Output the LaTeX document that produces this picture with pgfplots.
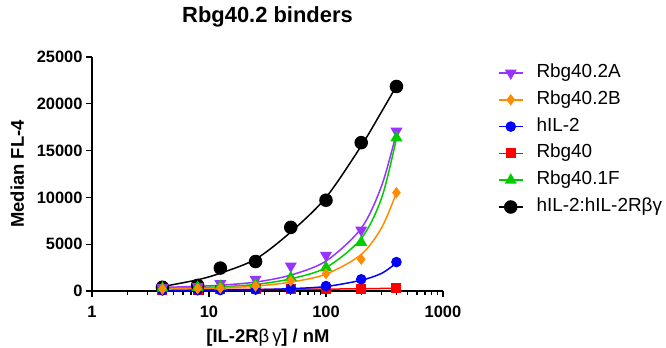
\documentclass[border=0pt]{standalone}
\usepackage{fontspec}
\setmainfont{Liberation Sans}
\usepackage{pgfplots}
\usepackage{pgfplotstable}
\pgfplotsset{compat=1.18}

\definecolor{cPurple}{RGB}{153,51,255}
\definecolor{cOrange}{RGB}{255,140,0}
\definecolor{cBlue}{RGB}{0,0,255}
\definecolor{cRed}{RGB}{255,0,0}
\definecolor{cGreen}{RGB}{0,204,0}

% measured medians
\pgfplotstableread{
conc  A     B     IL2   R40  F1    cplx
4     360   200   60    150  300   400
8     470   250   80    150  400   600
12.5  790   300   100   160  500   2450
25    1250  530   150   170  700   3150
50    2670  1070  250   180  1430  6800
100   3810  1850  530   200  2500  9700
200   6510  3380  1250  250  5200  15850
400   17070 10500 3090  320  16360 21850
}\points

% fitted curves
\pgfplotstableread{
conc  A     B     IL2   R40  F1    cplx
4     380   200   60    150  280   470
8     500   260   80    160  360   1200
12.5  620   330   100   165  450   1900
25    950   520   140   175  700   3400
50    1700  950   250   185  1300  6300
100   3200  1800  480   200  2500  10000
200   6700  3900  1150  240  5600  15500
300   11300 6800  1900  270  10000 19200
400   16900 10500 3000  300  16300 21900
}\curves

\pgfplotsset{
  sA/.style={cPurple, line width=1.5bp, mark=triangle*, mark size=5.5bp, mark options={rotate=180, solid, fill=cPurple}},
  sB/.style={cOrange, line width=1.5bp, mark=diamond*, mark size=4.5bp, mark options={solid, fill=cOrange}},
  sIL/.style={cBlue, line width=1.5bp, mark=*, mark size=4.5bp, mark options={solid, fill=cBlue}},
  sR/.style={cRed, line width=1.5bp, mark=square*, mark size=4.2bp, mark options={solid, fill=cRed}},
  sF/.style={cGreen, line width=1.5bp, mark=triangle*, mark size=5.5bp, mark options={solid, fill=cGreen}},
  sC/.style={black, line width=1.5bp, mark=*, mark size=6bp, mark options={solid, fill=black}},
}

\begin{document}
\begin{tikzpicture}
\path[use as bounding box] (-92bp,-57bp) rectangle (574bp,291bp);
\begin{axis}[
  scale only axis, width=351bp, height=234bp,
  at={(0,0)}, anchor=south west,
  xmode=log, xmin=1, xmax=1000, ymin=0, ymax=25000,
  axis x line=bottom, axis y line=left,
  axis line style={-, line width=1.6bp, black},
  tick align=outside, major tick length=6bp, minor tick length=4bp,
  every tick/.style={black, line width=1.3bp},
  xtick={1,10,100,1000}, xticklabels={1,10,100,1000},
  minor xtick={2,3,4,5,6,7,8,9,20,30,40,50,60,70,80,90,200,300,400,500,600,700,800,900},
  ytick={0,5000,10000,15000,20000,25000},
  scaled y ticks=false,
  /pgf/number format/1000 sep={},
  /pgf/number format/assume math mode=true,
  ticklabel style={font=\fontsize{16.5}{18}\selectfont\bfseries},
  xticklabel style={yshift=-6bp},
  title={Rbg40.2 binders},
  title style={at={(axis description cs:0.5,1)}, anchor=base, yshift=29bp, font=\fontsize{22}{24}\selectfont\bfseries},
  xlabel={[IL-2R{\mdseries β\,γ}] / nM},
  xlabel style={at={(axis description cs:0.5,0)}, anchor=base, yshift=-51bp, xshift=0.5bp, font=\fontsize{18.5}{20}\selectfont\bfseries},
  ylabel={Median FL-4},
  ylabel style={at={(axis description cs:0,0.5)}, anchor=base, yshift=68bp, font=\fontsize{18.5}{20}\selectfont\bfseries},
  clip=false,
  legend style={at={(axis description cs:1,1)}, anchor=north west, xshift=55bp, yshift=-7.5bp,
    draw=none, fill=none, inner sep=0pt, outer sep=0pt,
    font=\fontsize{19}{20}\selectfont, row sep=9.8bp, column sep=13bp,
    nodes={inner sep=0pt, text height=13bp, text depth=4bp}},
  legend cell align=left,
  legend image code/.code={\draw[#1, mark repeat=2, mark phase=2] plot coordinates {(0bp,0bp) (12bp,0bp) (24bp,0bp)};},
]
% legend entries
\addlegendimage{sA}\addlegendentry{Rbg40.2A}
\addlegendimage{sB}\addlegendentry{Rbg40.2B}
\addlegendimage{sIL}\addlegendentry{hIL-2}
\addlegendimage{sR}\addlegendentry{Rbg40}
\addlegendimage{sF}\addlegendentry{Rbg40.1F}
\addlegendimage{sC}\addlegendentry{hIL-2:hIL-2R{β}{γ}}

% hIL-2:hIL-2Rbg complex
\addplot[sC, no markers, smooth, forget plot] table[x=conc, y=cplx] {\curves};
\addplot[sC, only marks, forget plot] table[x=conc, y=cplx] {\points};
% Rbg40
\addplot[sR, no markers, smooth, forget plot] table[x=conc, y=R40] {\curves};
\addplot[sR, only marks, forget plot] table[x=conc, y=R40] {\points};
% hIL-2
\addplot[sIL, no markers, smooth, forget plot] table[x=conc, y=IL2] {\curves};
\addplot[sIL, only marks, forget plot] table[x=conc, y=IL2] {\points};
% Rbg40.2A
\addplot[sA, no markers, smooth, forget plot] table[x=conc, y=A] {\curves};
\addplot[sA, only marks, forget plot] table[x=conc, y=A] {\points};
% Rbg40.1F
\addplot[sF, no markers, smooth, forget plot] table[x=conc, y=F1] {\curves};
\addplot[sF, only marks, forget plot] table[x=conc, y=F1] {\points};
% Rbg40.2B
\addplot[sB, no markers, smooth, forget plot] table[x=conc, y=B] {\curves};
\addplot[sB, only marks, forget plot] table[x=conc, y=B] {\points};
\end{axis}
\end{tikzpicture}
\end{document}
